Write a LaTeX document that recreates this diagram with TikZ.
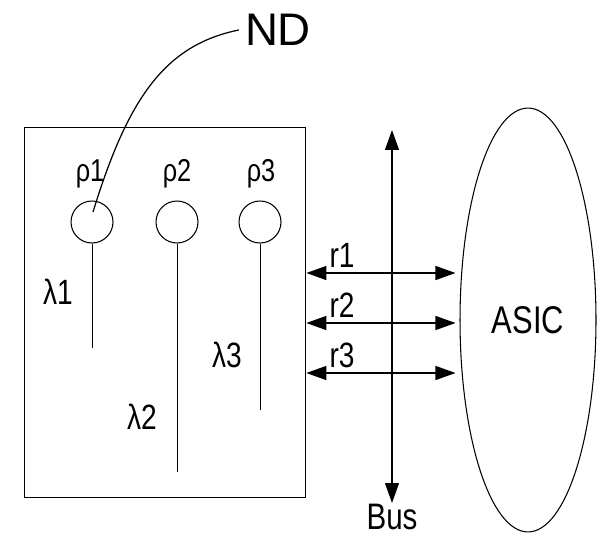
\documentclass[tikz,border=0pt]{standalone}
\usepackage{fontspec}
\setmainfont{Liberation Sans}
\newfontfamily\narrowfont{Liberation Sans}[FakeStretch=0.8]
\usetikzlibrary{positioning,arrows.meta,shapes.geometric,calc}
\tikzset{
  ndbox/.style={draw, line width=0.8pt, inner sep=0pt},
  ndporta/.style={draw, circle, line width=0.6pt, minimum size=0.84cm, inner sep=0pt},
  ndrotulo/.style={font=\narrowfont\fontsize{20}{22}\selectfont, inner sep=1pt},
  ndseta/.style={{Triangle[length=4mm,width=2.8mm]}-{Triangle[length=4mm,width=2.8mm]}, line width=0.7pt},
  ndfio/.style={line width=0.5pt},
}
\begin{document}
\begin{tikzpicture}[x=0.02cm, y=-0.02cm,
    rho/.style={ndrotulo, font=\narrowfont\fontsize{18}{20}\selectfont},
    grande/.style={ndrotulo, font=\narrowfont\fontsize{21}{23}\selectfont}
  ]
  \useasboundingbox (0,0) rectangle (598,537);
  % chip with three ports
  \node[ndbox, anchor=north west, minimum width=5.62cm, minimum height=7.4cm] (box) at (24,127) {};
  \node[ndporta] (p1) at (92,222) {};
  \node[ndporta] (p2) at (177,222) {};
  \node[ndporta] (p3) at (260,222) {};
  \node[rho] (rho1) at (90,174) {ρ1};
  \node[rho] (rho2) at (177,174) {ρ2};
  \node[rho] (rho3) at (261,174) {ρ3};
  \coordinate (l1end) at (92,348);
  \coordinate (l2end) at (177,472);
  \coordinate (l3end) at (260,410);
  \draw[ndfio] (p1.south) -- (l1end);
  \draw[ndfio] (p2.south) -- (l2end);
  \draw[ndfio] (p3.south) -- (l3end);
  \node[ndrotulo] (lam1) at (58,292) {λ1};
  \node[ndrotulo] (lam2) at (142,417) {λ2};
  \node[ndrotulo] (lam3) at (227,355) {λ3};
  % ND callout
  \node[font=\fontsize{26}{28}\selectfont] (nd) at (278,30) {ND};
  \coordinate (ndtip) at (93,212);
  \draw[line width=0.7pt] (ndtip) .. controls (128,98) and (165,45) .. (nd.west);
  % ASIC and bus
  \node[draw, ellipse, line width=0.6pt, minimum width=2.72cm, minimum height=8.48cm, inner sep=0pt,
        font=\narrowfont\fontsize{22}{24}\selectfont] (asic) at (528,320) {ASIC};
  \coordinate (bustop) at (392,130);
  \node[grande, anchor=north, inner sep=0.5pt] (bus) at (392,503) {Bus};
  \draw[ndseta] (bustop) -- (bus.north);
  \node[ndrotulo] (r1) at (342,255) {r1};
  \node[ndrotulo] (r2) at (342,305) {r2};
  \node[ndrotulo] (r3) at (342,355) {r3};
  \coordinate (y1) at (0,273);
  \coordinate (y2) at (0,323);
  \coordinate (y3) at (0,373);
  \draw[ndseta, shorten >=0.08cm] (box.east |- y1) -- (asic.west |- y1);
  \draw[ndseta, shorten >=0.08cm] (box.east |- y2) -- (asic.west |- y2);
  \draw[ndseta, shorten >=0.08cm] (box.east |- y3) -- (asic.west |- y3);
\end{tikzpicture}
\end{document}
